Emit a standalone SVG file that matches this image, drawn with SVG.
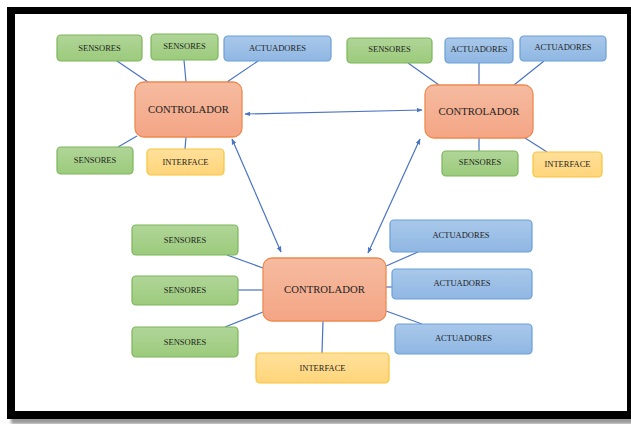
<svg xmlns="http://www.w3.org/2000/svg" width="631" height="424" viewBox="0 0 631 424">
  <defs>
    <linearGradient id="gGreen" x1="0" y1="0" x2="0" y2="1">
      <stop offset="0" stop-color="#b0d598"/>
      <stop offset="1" stop-color="#9ccb7c"/>
    </linearGradient>
    <linearGradient id="gBlue" x1="0" y1="0" x2="0" y2="1">
      <stop offset="0" stop-color="#a9c8ea"/>
      <stop offset="1" stop-color="#8fb7e3"/>
    </linearGradient>
    <linearGradient id="gOrange" x1="0" y1="0" x2="0" y2="1">
      <stop offset="0" stop-color="#f5bba0"/>
      <stop offset="1" stop-color="#f4a585"/>
    </linearGradient>
    <linearGradient id="gYellow" x1="0" y1="0" x2="0" y2="1">
      <stop offset="0" stop-color="#ffe09a"/>
      <stop offset="1" stop-color="#ffd57a"/>
    </linearGradient>
    <filter id="soft" x="-5%" y="-5%" width="110%" height="110%">
      <feGaussianBlur stdDeviation="1.5"/>
    </filter>
    <marker id="arr" viewBox="0 0 10 10" refX="9" refY="5" markerWidth="6" markerHeight="6" orient="auto-start-reverse" markerUnits="userSpaceOnUse">
      <path d="M0,1 L10,5 L0,9 z" fill="#4a74c4"/>
    </marker>
  </defs>
  <style>
    .sen { fill: url(#gGreen); stroke: #7cb65a; stroke-width: 1.2; }
    .act { fill: url(#gBlue); stroke: #6a9fd8; stroke-width: 1.2; }
    .ctl { fill: url(#gOrange); stroke: #ee8a50; stroke-width: 1.3; }
    .itf { fill: url(#gYellow); stroke: #f8c43a; stroke-width: 1.2; }
    text { font-family: "Liberation Serif", "Times New Roman", serif; fill: #1e1e1e; text-anchor: middle; }
    .s { font-size: 8.5px; }
    .c { font-size: 10.7px; }
    .link { stroke: #4a74c4; stroke-width: 1.2; fill: none; }
    .dbl { stroke: #4a74c4; stroke-width: 1.2; fill: none; marker-start: url(#arr); marker-end: url(#arr); }
  </style>

  <!-- page frame with drop shadow -->
  <rect x="11" y="12" width="630" height="412" fill="#9a9a9a" filter="url(#soft)"/>
  <rect x="7" y="7" width="630" height="412" fill="#000"/>
  <rect x="15" y="14" width="612" height="397" fill="#fff"/>

  <!-- connectors -->
  <g id="connectors">
    <!-- top-left cluster -->
    <line class="link" x1="117" y1="61" x2="148" y2="82"/>
    <line class="link" x1="184" y1="60" x2="186" y2="82"/>
    <line class="link" x1="258" y1="61" x2="227" y2="82"/>
    <line class="link" x1="118" y1="147" x2="137" y2="136"/>
    <line class="link" x1="186" y1="137" x2="185" y2="149"/>
    <!-- top-right cluster -->
    <line class="link" x1="408" y1="63" x2="439" y2="85"/>
    <line class="link" x1="479" y1="63" x2="479" y2="85"/>
    <line class="link" x1="544" y1="61" x2="514" y2="85"/>
    <line class="link" x1="479" y1="138" x2="479" y2="151"/>
    <line class="link" x1="525" y1="138" x2="547" y2="152"/>
    <!-- bottom cluster -->
    <line class="link" x1="227" y1="255" x2="263" y2="268"/>
    <line class="link" x1="238" y1="290" x2="263" y2="290"/>
    <line class="link" x1="225" y1="327" x2="263" y2="312"/>
    <line class="link" x1="323" y1="321" x2="322" y2="353"/>
    <line class="link" x1="418" y1="252" x2="386" y2="266"/>
    <line class="link" x1="386" y1="287" x2="392" y2="287"/>
    <line class="link" x1="386" y1="311" x2="422" y2="324"/>
    <!-- controller to controller links -->
    <line class="dbl" x1="245" y1="114" x2="422" y2="110"/>
    <line class="dbl" x1="232" y1="139" x2="281" y2="252"/>
    <line class="dbl" x1="420" y1="139" x2="368" y2="253"/>
  </g>

  <!-- top-left controller and devices -->
  <g id="tl-sensores-1"><rect class="sen" x="57" y="35" width="85" height="26" rx="4"/><text class="s" x="99.5" y="51">SENSORES</text></g>
  <g id="tl-sensores-2"><rect class="sen" x="151" y="34" width="67" height="26" rx="4"/><text class="s" x="184.5" y="49">SENSORES</text></g>
  <g id="tl-actuadores"><rect class="act" x="224" y="36" width="107" height="25" rx="4"/><text class="s" x="277.5" y="51">ACTUADORES</text></g>
  <g id="tl-controlador"><rect class="ctl" x="135" y="82" width="107" height="55" rx="9"/><text class="c" x="188.5" y="113">CONTROLADOR</text></g>
  <g id="tl-sensores-3"><rect class="sen" x="57" y="147" width="76" height="27" rx="4"/><text class="s" x="95" y="163">SENSORES</text></g>
  <g id="tl-interface"><rect class="itf" x="147" y="149" width="77" height="26" rx="4"/><text class="s" x="185.5" y="164.5">INTERFACE</text></g>

  <!-- top-right controller and devices -->
  <g id="tr-sensores-1"><rect class="sen" x="347" y="38" width="85" height="25" rx="4"/><text class="s" x="389.5" y="52">SENSORES</text></g>
  <g id="tr-actuadores-1"><rect class="act" x="445" y="38" width="68" height="25" rx="4"/><text class="s" x="479" y="52">ACTUADORES</text></g>
  <g id="tr-actuadores-2"><rect class="act" x="520" y="36" width="86" height="25" rx="4"/><text class="s" x="563" y="50">ACTUADORES</text></g>
  <g id="tr-controlador"><rect class="ctl" x="425" y="85" width="108" height="53" rx="9"/><text class="c" x="479" y="115">CONTROLADOR</text></g>
  <g id="tr-sensores-2"><rect class="sen" x="442" y="151" width="76" height="25" rx="4"/><text class="s" x="480" y="165">SENSORES</text></g>
  <g id="tr-interface"><rect class="itf" x="533" y="152" width="69" height="25" rx="4"/><text class="s" x="567.5" y="166.5">INTERFACE</text></g>

  <!-- bottom controller and devices -->
  <g id="b-sensores-1"><rect class="sen" x="132" y="225" width="106" height="30" rx="4"/><text class="s" x="185" y="243">SENSORES</text></g>
  <g id="b-sensores-2"><rect class="sen" x="132" y="276" width="106" height="29" rx="4"/><text class="s" x="185" y="292.5">SENSORES</text></g>
  <g id="b-sensores-3"><rect class="sen" x="132" y="327" width="106" height="30" rx="4"/><text class="s" x="185" y="344.5">SENSORES</text></g>
  <g id="b-controlador"><rect class="ctl" x="263" y="258" width="123" height="63" rx="9"/><text class="c" x="324.5" y="293">CONTROLADOR</text></g>
  <g id="b-interface"><rect class="itf" x="256" y="353" width="133" height="30" rx="4"/><text class="s" x="322.5" y="370.5">INTERFACE</text></g>
  <g id="b-actuadores-1"><rect class="act" x="390" y="220" width="142" height="32" rx="4"/><text class="s" x="461" y="237.5">ACTUADORES</text></g>
  <g id="b-actuadores-2"><rect class="act" x="392" y="269" width="140" height="30" rx="4"/><text class="s" x="462" y="286">ACTUADORES</text></g>
  <g id="b-actuadores-3"><rect class="act" x="395" y="324" width="137" height="30" rx="4"/><text class="s" x="463.5" y="341">ACTUADORES</text></g>
</svg>
